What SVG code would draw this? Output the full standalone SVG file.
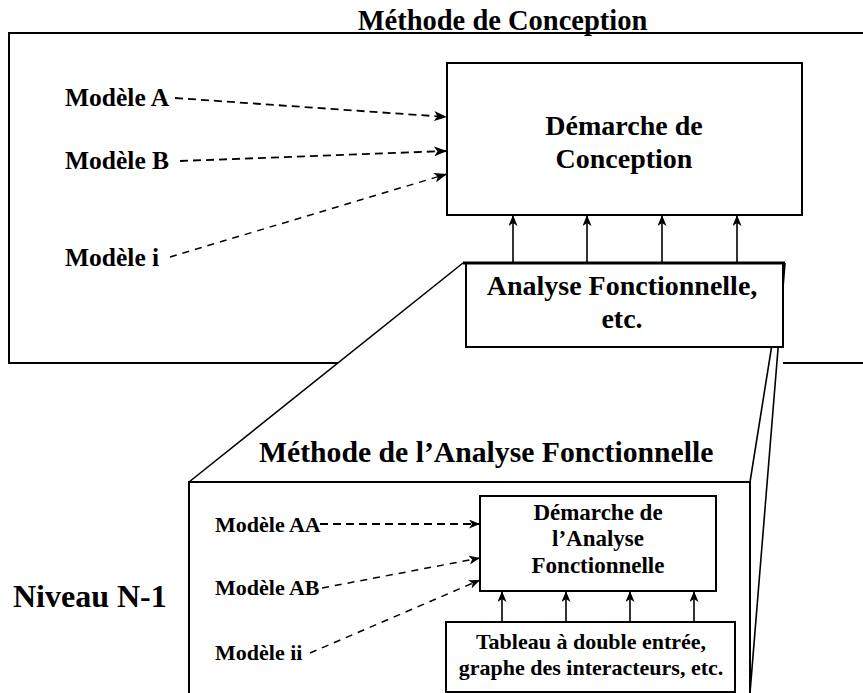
<svg xmlns="http://www.w3.org/2000/svg" width="863" height="693" viewBox="0 0 863 693">
  <style>
    .t { font-family: "Liberation Serif", "Times New Roman", serif; font-weight: bold; fill: #000; }
    .mid { text-anchor: middle; }
    .box { fill: #fff; stroke: #000; stroke-width: 2; }
    .frame { fill: none; stroke: #000; stroke-width: 2; }
    .proj { fill: none; stroke: #000; stroke-width: 1.6; }
    .dash { fill: none; stroke: #000; stroke-width: 1.8; stroke-dasharray: 8 5; }
    .dash2 { fill: none; stroke: #000; stroke-width: 1.5; stroke-dasharray: 7 6; }
    .solid { fill: none; stroke: #000; stroke-width: 1.6; }
  </style>
  <defs>
    <marker id="head" markerUnits="userSpaceOnUse" markerWidth="13" markerHeight="10" refX="13" refY="5" orient="auto">
      <path d="M0,0 L13,5 L0,10 L3.5,5 Z" fill="#000"/>
    </marker>
    <marker id="headS" markerUnits="userSpaceOnUse" markerWidth="11" markerHeight="9" refX="11" refY="4.5" orient="auto">
      <path d="M0,0 L11,4.5 L0,9 L3,4.5 Z" fill="#000"/>
    </marker>
  </defs>

  <!-- upper level: design method frame -->
  <g id="methode-conception">
    <path class="frame" d="M863,33 H9 V363 H338 M783,363 H863"/>
    <text class="t mid" x="502.5" y="30" font-size="28.5">Méthode de Conception</text>
  </g>

  <g id="modele-a"><text class="t" x="65" y="106" font-size="25.5">Modèle A</text></g>
  <g id="modele-b"><text class="t" x="65" y="169" font-size="25.5">Modèle B</text></g>
  <g id="modele-i"><text class="t" x="65" y="266" font-size="25.5">Modèle i</text></g>

  <g id="demarche-conception">
    <rect class="box" x="447" y="63" width="355" height="152"/>
    <text class="t mid" x="624" y="135" font-size="28">Démarche de</text>
    <text class="t mid" x="624" y="168" font-size="28">Conception</text>
  </g>

  <!-- projection of the functional analysis box onto the lower level -->
  <g id="projection">
    <path class="proj" d="M463,263 L189,482 M785,263 L750,482 M785,263 L750,693"/>
  </g>

  <g id="analyse-fonctionnelle">
    <rect class="box" x="466" y="263" width="317" height="84"/>
    <line x1="463" y1="263" x2="785" y2="263" stroke="#000" stroke-width="3"/>
    <text class="t mid" x="622" y="295" font-size="28">Analyse Fonctionnelle,</text>
    <text class="t mid" x="622" y="328" font-size="28">etc.</text>
  </g>

  <!-- lower level: functional analysis method frame -->
  <g id="methode-analyse">
    <path class="frame" d="M189,693 V482 H750 V693"/>
    <text class="t" x="259" y="462" font-size="29.7">Méthode de l’Analyse Fonctionnelle</text>
  </g>

  <g id="niveau"><text class="t" x="13" y="607" font-size="32">Niveau N-1</text></g>

  <g id="modele-aa"><text class="t" x="215" y="532" font-size="22">Modèle AA</text></g>
  <g id="modele-ab"><text class="t" x="215" y="595" font-size="22">Modèle AB</text></g>
  <g id="modele-ii"><text class="t" x="215" y="660" font-size="22">Modèle ii</text></g>

  <g id="demarche-analyse">
    <rect class="box" x="480" y="496" width="236" height="95"/>
    <text class="t mid" x="598" y="520" font-size="23">Démarche de</text>
    <text class="t mid" x="598" y="546" font-size="23">l’Analyse</text>
    <text class="t mid" x="598" y="573" font-size="23">Fonctionnelle</text>
  </g>

  <g id="tableau">
    <rect class="box" x="446" y="622" width="289" height="70"/>
    <text class="t mid" x="591" y="649" font-size="22">Tableau à double entrée,</text>
    <text class="t mid" x="591" y="675" font-size="22">graphe des interacteurs, etc.</text>
  </g>

  <!-- connectors -->
  <g id="connectors">
    <line class="dash" x1="175" y1="98" x2="447" y2="117" marker-end="url(#head)"/>
    <line class="dash" x1="180" y1="161" x2="447" y2="151" marker-end="url(#head)"/>
    <line class="dash2" x1="170" y1="257" x2="447" y2="174" marker-end="url(#head)"/>

    <line class="solid" x1="513" y1="263" x2="513" y2="215" marker-end="url(#headS)"/>
    <line class="solid" x1="587" y1="263" x2="587" y2="215" marker-end="url(#headS)"/>
    <line class="solid" x1="662" y1="263" x2="662" y2="215" marker-end="url(#headS)"/>
    <line class="solid" x1="737" y1="263" x2="737" y2="215" marker-end="url(#headS)"/>

    <line class="dash" x1="320" y1="524" x2="480" y2="524" marker-end="url(#headS)"/>
    <line class="dash2" x1="322" y1="588" x2="480" y2="558" marker-end="url(#headS)"/>
    <line class="dash2" x1="310" y1="653" x2="480" y2="580" marker-end="url(#headS)"/>

    <line class="solid" x1="502" y1="622" x2="502" y2="591" marker-end="url(#headS)"/>
    <line class="solid" x1="566" y1="622" x2="566" y2="591" marker-end="url(#headS)"/>
    <line class="solid" x1="630" y1="622" x2="630" y2="591" marker-end="url(#headS)"/>
    <line class="solid" x1="694" y1="622" x2="694" y2="591" marker-end="url(#headS)"/>
  </g>
</svg>
